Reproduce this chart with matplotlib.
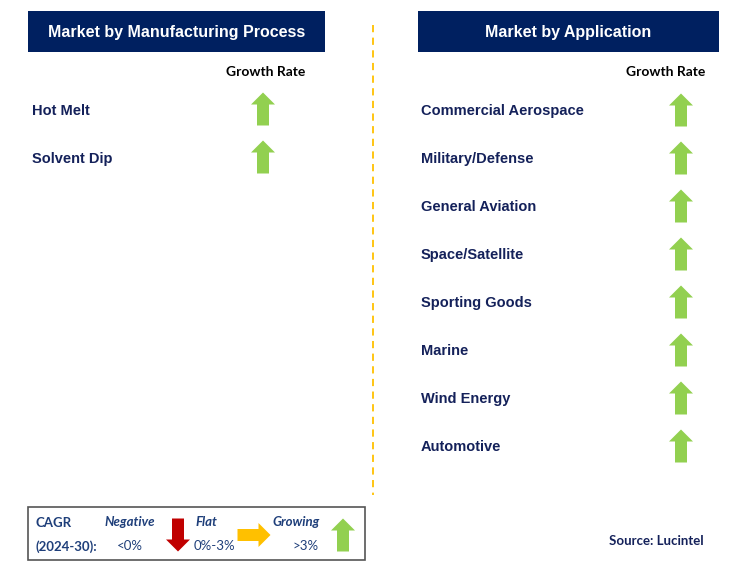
import matplotlib
matplotlib.use('Agg')
import matplotlib.pyplot as plt
from matplotlib.patches import Rectangle, Polygon

# ---- content --------------------------------------------------------
LEFT_TITLE = 'Market by Manufacturing Process'
RIGHT_TITLE = 'Market by Application'
PROCESS = ['Hot Melt', 'Solvent Dip']
PROCESS_TREND = ['up', 'up']
APPLICATIONS = ['Commercial Aerospace', 'Military/Defense', 'General Aviation',
                'Space/Satellite', 'Sporting Goods', 'Marine', 'Wind Energy',
                'Automotive']
APP_TREND = ['up'] * len(APPLICATIONS)
LEGEND_LABELS = ['Negative', 'Flat', 'Growing']
LEGEND_RANGES = ['<0%', '0%-3%', '>3%']
SOURCE = 'Source: Lucintel'

NAVY = '#002060'
TEXT = '#14215a'
GREEN = '#92d050'
RED = '#c00000'
YELLOW = '#ffc000'
LEG_TEXT = '#1f3f7a'

W, H = 742, 577
fig = plt.figure(figsize=(W / 100, H / 100), dpi=100)
ax = fig.add_axes([0, 0, 1, 1])
ax.set_xlim(0, W)
ax.set_ylim(H, 0)
ax.axis('off')


def arrow(cx, cy, kind, color, size=33, head=12, hw=12, sw=6):
    # arrow drawn around centre (cx, cy) in pixel coords (y down)
    h = size / 2
    if kind == 'up':
        pts = [(cx - sw, cy + h), (cx - sw, cy - h + head), (cx - hw, cy - h + head),
               (cx, cy - h), (cx + hw, cy - h + head), (cx + sw, cy - h + head),
               (cx + sw, cy + h)]
    elif kind == 'down':
        pts = [(cx - sw, cy - h), (cx - sw, cy + h - head), (cx - hw, cy + h - head),
               (cx, cy + h), (cx + hw, cy + h - head), (cx + sw, cy + h - head),
               (cx + sw, cy - h)]
    else:  # right
        pts = [(cx - h, cy - sw), (cx + h - head, cy - sw), (cx + h - head, cy - hw),
               (cx + h, cy), (cx + h - head, cy + hw), (cx + h - head, cy + sw),
               (cx - h, cy + sw)]
    ax.add_patch(Polygon(pts, closed=True, facecolor=color, edgecolor='none'))


TREND_COLOR = {'up': GREEN, 'down': RED, 'right': YELLOW}

# ---- header boxes ---------------------------------------------------
for x0, x1, title in [(28, 325, LEFT_TITLE), (418, 719, RIGHT_TITLE)]:
    ax.add_patch(Rectangle((x0, 11), x1 - x0, 41, facecolor=NAVY, edgecolor='none'))
    ax.text((x0 + x1) / 2, 37, title, ha='center', va='baseline', color='white',
            fontsize=11.5, fontweight='bold', family='Liberation Sans')

# separator
ax.plot([373, 373], [25, 495], color='#ffc000', linestyle=(0, (4, 3)), linewidth=1.3)

# ---- growth rate columns --------------------------------------------
for gx in (266, 666):
    ax.text(gx, 75.5, 'Growth Rate', ha='center', va='baseline', color='black',
            fontsize=10, fontweight='bold', family='Lato')

ROW0, STEP = 109, 48
for i, (name, tr) in enumerate(zip(PROCESS, PROCESS_TREND)):
    y = ROW0 + i * STEP
    ax.text(32, y + 6, name, ha='left', va='baseline', color=TEXT, fontsize=10.5,
            fontweight='bold', family='Liberation Sans')
    arrow(263, y, tr, TREND_COLOR[tr])

for i, (name, tr) in enumerate(zip(APPLICATIONS, APP_TREND)):
    y = ROW0 + i * STEP
    ax.text(421, y + 6, name, ha='left', va='baseline', color=TEXT, fontsize=10.5,
            fontweight='bold', family='Liberation Sans')
    arrow(681, y + 1, tr, TREND_COLOR[tr])

# ---- legend box -----------------------------------------------------
ax.add_patch(Rectangle((28, 507), 337, 53, facecolor='white', edgecolor='#555555',
                       linewidth=1.2))
ax.text(36, 527, 'CAGR', ha='left', va='baseline', color=LEG_TEXT, fontsize=9.5,
        fontweight='bold', family='Lato')
ax.text(36, 551, '(2024-30):', ha='left', va='baseline', color=LEG_TEXT, fontsize=9.5,
        fontweight='bold', family='Lato')
leg_x = [130, 206, 296]
rng_x = [130, 214, 306]
leg_arrows = [('down', 178), ('right', 254), ('up', 343)]
for lab, rng, lx, rx, (kind, ax_x) in zip(LEGEND_LABELS, LEGEND_RANGES, leg_x, rng_x,
                                          leg_arrows):
    ax.text(lx, 526, lab, ha='center', va='baseline', color=LEG_TEXT, fontsize=9.5,
            fontweight='bold', style='italic', family='Lato')
    ax.text(rx, 550, rng, ha='center', va='baseline', color=LEG_TEXT, fontsize=9.5,
            family='Lato')
    arrow(ax_x, 535, kind, TREND_COLOR[kind])

ax.text(704, 545, SOURCE, ha='right', va='baseline', color=TEXT, fontsize=9.5,
        fontweight='bold', family='Lato')

fig.savefig('out.png', dpi=100, facecolor='white')
